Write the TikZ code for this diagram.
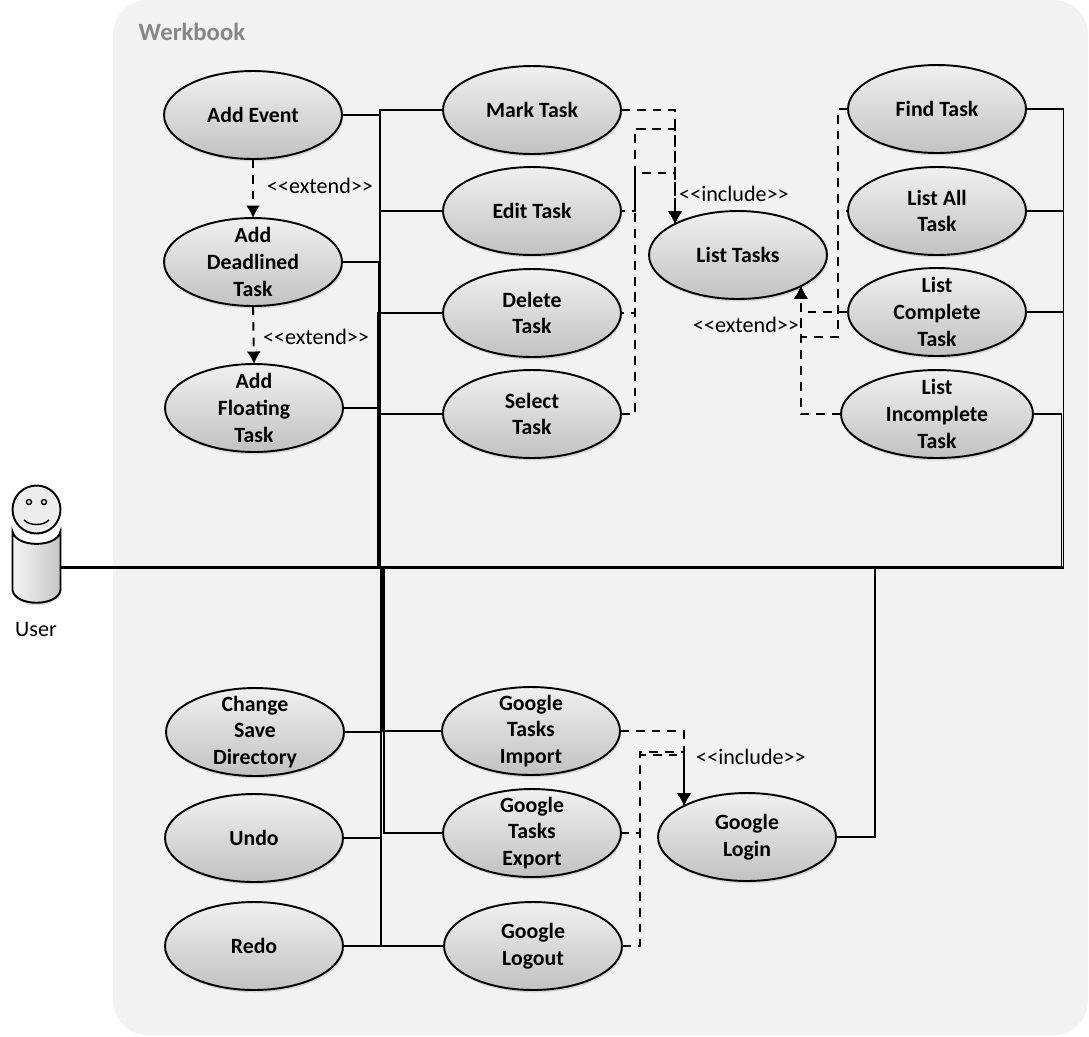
\documentclass[tikz,border=0pt]{standalone}
\usepackage{fontspec}
\setmainfont{Carlito}
\usetikzlibrary{shapes.geometric,arrows.meta,shadows}
\newcommand{\stereo}[1]{<{}<#1>{}>}
\tikzset{
  usecase/.style={ellipse, draw=black, line width=1.1pt, minimum width=3.56cm, minimum height=1.76cm,
    inner sep=-0.3cm, outer sep=0pt, align=center, font=\fontsize{12.4}{15.2}\selectfont\bfseries,
    top color=gray!12, bottom color=gray!48, drop shadow={opacity=0.25, shadow xshift=0.02cm, shadow yshift=-0.05cm}},
  assoc/.style={draw=black, line width=1.1pt},
  dep/.style={draw=black, line width=1.1pt, dash pattern=on 5pt off 4pt, -{Latex[length=0.25cm,width=0.28cm]}},
  stereolabel/.style={font=\fontsize{12.6}{15}\selectfont, inner sep=0pt}
}
\begin{document}
\begin{tikzpicture}[x=0.02cm, y=-0.02cm]
\useasboundingbox (0,0) rectangle (1089,1036);
\fill[white] (0,0) rectangle (1089,1036);
\fill[gray!10, rounded corners=0.7cm] (113,0) rectangle (1088,1035);
\node[font=\fontsize{14.1}{16}\selectfont\bfseries, text=gray!95!white, inner sep=0pt] (werkbook) at (192,32) {Werkbook};
\foreach \nm/\px/\py/\txt in {addevent/253/115/Add Event, adddeadlined/253/262/Add\\Deadlined\\Task, addfloating/254/408/Add\\Floating\\Task,
  marktask/532/110/Mark Task, edittask/532/211/Edit Task, deletetask/532/313/Delete\\Task, selecttask/532/414/Select\\Task,
  listtasks/738/255/List Tasks, findtask/937/109/Find Task, listall/937/211/List All\\Task, listcomplete/937/312/List\\Complete\\Task,
  changedir/255/732/Change\\Save\\Directory, undo/254/838/Undo, redo/254/946/Redo,
  gimport/531/731/Google\\Tasks\\Import, gexport/532/833/Google\\Tasks\\Export, glogout/533/946/Google\\Logout, glogin/747/837/Google\\Login}
  \node[usecase] (\nm) at (\px,\py) {\txt};
\node[usecase, minimum width=3.84cm] (listincomplete) at (937,414) {List\\Incomplete\\Task};
\fill[top color=gray!10, bottom color=gray!10, left color=gray!8, right color=gray!45, draw=black, line width=1.1pt,
  drop shadow={opacity=0.25, shadow xshift=0.01cm, shadow yshift=-0.05cm}]
  (12.5,531.5) .. controls (16,548) and (57,548) .. (60.5,531.5) -- (60.5,590)
  .. controls (58,607) and (15,607) .. (12.5,590) -- cycle;
\node[circle, draw=black, line width=1.1pt, fill=gray!15, minimum size=0.96cm, inner sep=0pt, outer sep=0pt] (userhead) at (36.5,509.5) {};
\draw[line width=0.8pt, fill=gray!15] (29,502) circle (0.05cm) (44,502) circle (0.05cm);
\draw[line width=0.8pt] (24,520) .. controls (30,526) and (43,526) .. (49,520);
\node[font=\fontsize{12.6}{15}\selectfont, inner sep=0pt] (userlabel) at (36,629) {User};
\coordinate (userport) at (60.5,567);
\foreach \c/\cx in {trkA/380, trkB/379.7, trkC/377.5, trkD/379, trkE/380.5, trkF/381, trkG/382, trkH/384, trkL/875, trkR/1063.5, trkS/1061.5}
  \coordinate (\c) at (\cx,567);
\foreach \src/\trk in {addevent.east/trkA, marktask.west/trkA, edittask.west/trkB, deletetask.west/trkC, adddeadlined.east/trkD,
  addfloating.east/trkC, selecttask.west/trkE, changedir.east/trkF, undo.east/trkF, redo.east/trkF, glogout.west/trkF,
  gimport.west/trkG, gexport.west/trkH, glogin.east/trkL, findtask.east/trkR, listall.east/trkR, listcomplete.east/trkR, listincomplete.east/trkS}
  \draw[assoc] (\src) -| (\trk);
\draw[assoc, line width=1.7pt] (userport) -- (trkR);
\draw[dep] (addevent.south) -- (adddeadlined.north);
\draw[dep] (adddeadlined.south) -- (addfloating.north);
\coordinate (incA) at (635,173);
\coordinate (incB) at (635,129);
\coordinate (extA) at (838,337);
\coordinate (incC) at (640,755);
\coordinate (incD) at (640,752);
\draw[dep] (marktask.east) -| (listtasks.north west);
\draw[dep, dash phase=2.5pt] (edittask.east) -| (incA) -| (listtasks.north west);
\draw[dep, dash phase=3.3pt] (deletetask.east) -| (incB) -| (listtasks.north west);
\draw[dep] (selecttask.east) -| (incB) -| (listtasks.north west);
\draw[dep] (findtask.west) -| (extA) -| (listtasks.south east);
\draw[dep, dash phase=3.9pt] (listall.west) -| (extA) -| (listtasks.south east);
\draw[dep] (listcomplete.west) -| (listtasks.south east);
\draw[dep] (listincomplete.west) -| (listtasks.south east);
\draw[dep] (gimport.east) -| (glogin.north west);
\draw[dep, dash phase=0.5pt] (gexport.east) -| (incC) -| (glogin.north west);
\draw[dep] (glogout.east) -| (incD) -| (glogin.north west);
\foreach \nm/\px/\py/\txt in {extendA/320/186/extend, extendB/316/337/extend, includeA/734/194/include, extendC/746/325/extend, includeB/751/757/include}
  \node[stereolabel] (\nm) at (\px,\py) {\stereo{\txt}};
\end{tikzpicture}
\end{document}
